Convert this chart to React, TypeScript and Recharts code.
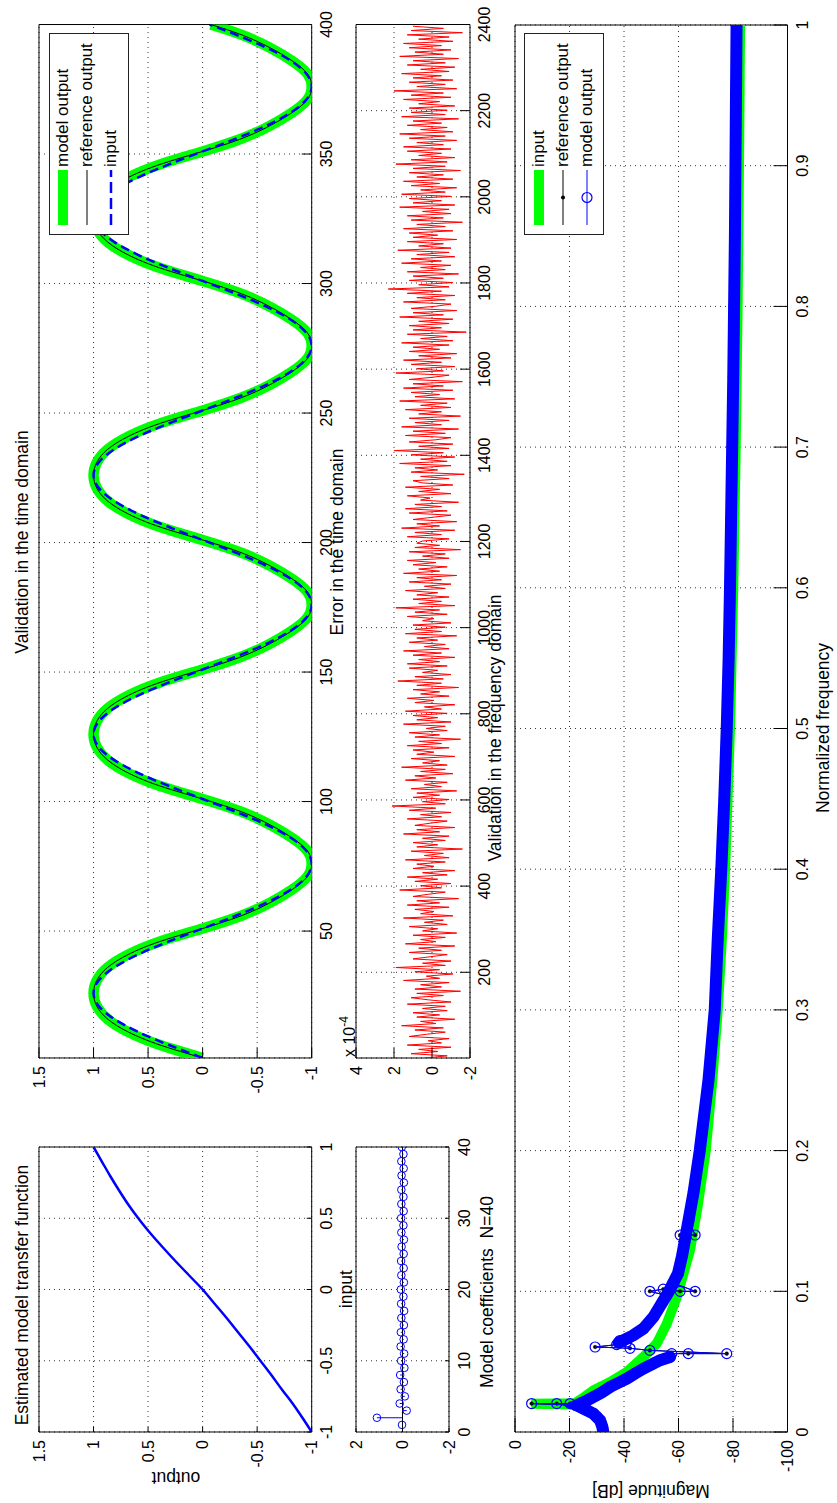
import React from 'react';
import {
  ComposedChart,
  Line,
  XAxis,
  YAxis,
  CartesianGrid,
  ReferenceArea,
  ReferenceLine,
  Legend,
} from 'recharts';

const FONT = '"Liberation Sans", Arial, Helvetica, sans-serif';
const TICK_FS = 16;
const LABEL_FS = 17.5;
const GREEN = '#00ff00';
const BLUE = '#0000ff';
const RED = '#ff0000';

// ---------------- data ----------------
// Estimated model transfer function
const tfInput = [-1, -0.9, -0.8, -0.7, -0.6, -0.5, -0.4, -0.3, -0.2, -0.1, 0, 0.1, 0.2, 0.3, 0.4, 0.5, 0.6, 0.7, 0.8, 0.9, 1];
const tfOutput = [-1, -0.915, -0.825, -0.725, -0.63, -0.53, -0.43, -0.325, -0.22, -0.11, 0, 0.125, 0.25, 0.37, 0.485, 0.59, 0.685, 0.77, 0.85, 0.925, 1];
const tfXTicks = [-1, -0.5, 0, 0.5, 1];
const tfYTicks = [-1, -0.5, 0, 0.5, 1, 1.5];

// Model coefficients N=40
const coefIndex = [1, 2, 3, 4, 5, 6, 7, 8, 9, 10, 11, 12, 13, 14, 15, 16, 17, 18, 19, 20, 21, 22, 23, 24, 25, 26, 27, 28, 29, 30, 31, 32, 33, 34, 35, 36, 37, 38, 39, 40];
const coefValue = [0.02, 1.1, -0.18, 0.12, -0.1, 0.08, -0.06, 0.1, -0.08, 0.06, -0.07, 0.08, -0.05, 0.07, -0.06, 0.05, -0.07, 0.06, -0.04, 0.07, -0.06, 0.05, -0.05, 0.06, -0.05, 0.04, -0.06, 0.05, -0.04, 0.06, -0.05, 0.05, -0.04, 0.05, -0.06, 0.04, -0.05, 0.05, -0.04, 0.03];
const coefXTicks = [0, 10, 20, 30, 40];
const coefYTicks = [-2, 0, 2];

// Validation in the time domain
const timeIndex = [1, 6, 11, 16, 21, 26, 31, 36, 41, 46, 51, 56, 61, 66, 71, 76, 81, 86, 91, 96, 101, 106, 111, 116, 121, 126, 131, 136, 141, 146, 151, 156, 161, 166, 171, 176, 181, 186, 191, 196, 201, 206, 211, 216, 221, 226, 231, 236, 241, 246, 251, 256, 261, 266, 271, 276, 281, 286, 291, 296, 301, 306, 311, 316, 321, 326, 331, 336, 341, 346, 351, 356, 361, 366, 371, 376, 381, 386, 391, 396, 400];
const timeInput = [
  0, 0.309, 0.588, 0.809, 0.951, 1, 0.951, 0.809, 0.588, 0.309, 0, -0.309, -0.588, -0.809, -0.951, -1, -0.951, -0.809, -0.588, -0.309,
  0, 0.309, 0.588, 0.809, 0.951, 1, 0.951, 0.809, 0.588, 0.309, 0, -0.309, -0.588, -0.809, -0.951, -1, -0.951, -0.809, -0.588, -0.309,
  0, 0.309, 0.588, 0.809, 0.951, 1, 0.951, 0.809, 0.588, 0.309, 0, -0.309, -0.588, -0.809, -0.951, -1, -0.951, -0.809, -0.588, -0.309,
  0, 0.309, 0.588, 0.809, 0.951, 1, 0.951, 0.809, 0.588, 0.309, 0, -0.309, -0.588, -0.809, -0.951, -1, -0.951, -0.809, -0.588, -0.309,
  -0.063,
];
const timeOutput = [
  0, 0.39, 0.68, 0.87, 0.97, 1, 0.97, 0.87, 0.68, 0.39, 0, -0.36, -0.62, -0.82, -0.96, -1, -0.96, -0.82, -0.62, -0.36,
  0, 0.39, 0.68, 0.87, 0.97, 1, 0.97, 0.87, 0.68, 0.39, 0, -0.36, -0.62, -0.82, -0.96, -1, -0.96, -0.82, -0.62, -0.36,
  0, 0.39, 0.68, 0.87, 0.97, 1, 0.97, 0.87, 0.68, 0.39, 0, -0.36, -0.62, -0.82, -0.96, -1, -0.96, -0.82, -0.62, -0.36,
  0, 0.39, 0.68, 0.87, 0.97, 1, 0.97, 0.87, 0.68, 0.39, 0, -0.36, -0.62, -0.82, -0.96, -1, -0.96, -0.82, -0.62, -0.36,
  -0.075,
];
const timeXTicks = [50, 100, 150, 200, 250, 300, 350, 400];
const timeYTicks = [-1, -0.5, 0, 0.5, 1, 1.5];

// Error in the time domain (x 10^-4), one value every 5 samples
const errorValue = [
  0.4, -0.8, 1.1, -0.3, 0.7, -1.0, 1.3, -0.5, 0.2, -0.9, 1.2, 0.3, -0.7, 0.9, -0.6, 1.6, -0.2, 0.6, -1.2, 0.8,
  -0.4, 1.0, -0.8, 0.5, -0.7, 1.3, -1.0, 0.2, 1.1, -0.6, 0.8, -1.5, 0.9, -0.5, 0.6, -0.9, 1.5, -0.4, 0.3, -1.1,
  0.9, -0.4, 1.9, -0.7, 0.5, -1.0, 1.0, 0.1, -0.8, 1.2, -0.5, 0.7, -1.2, 1.4, -0.2, 0.6, -0.7, 1.0, -1.3, 0.5,
  -0.3, 1.2, -0.8, 0.4, -0.6, 1.5, -1.1, 0.6, -0.1, 0.9, -0.9, 1.3, -0.4, 0.8, -1.4, 1.0, 0.2, -0.7, 1.7, -0.5,
  0.6, -1.0, 0.9, -0.3, 1.3, -0.8, 0.5, -1.2, 1.0, -0.1, 0.8, -0.7, 1.4, -0.9, 0.4, -0.6, 1.1, -1.6, 0.8, -0.3,
  1.0, -0.7, 0.5, -0.9, 1.5, -0.4, 0.8, -1.2, 0.9, 0.1, -0.8, 1.3, -0.5, 0.6, -1.0, 1.2, -0.2, 2.1, -0.7, 0.5,
  -0.9, 1.0, -0.4, 0.8, -1.3, 1.1, -0.5, 0.4, -0.8, 1.4, -0.2, 0.9, -1.1, 0.6, -0.7, 1.6, -0.8, 0.5, -0.4, 1.1,
  -1.2, 0.8, -0.1, 1.0, -0.9, 1.3, -0.5, 0.7, -1.5, 0.9, -0.4, 1.2, -0.8, 0.3, -0.7, 1.5, -1.0, 0.8, -0.3, 1.0,
  -0.8, 1.4, -0.5, 0.4, -1.2, 0.9, -0.1, 1.3, -0.9, 0.6, -0.4, 1.0, -1.4, 0.8, -0.5, 1.8, -0.6, 0.9, -1.0, 0.5,
  -0.3, 1.2, -0.8, 1.3, -0.4, 0.7, -1.2, 1.0, -0.5, 1.5, -0.9, 0.4, -0.7, 1.2, -0.3, 0.8, -1.3, 1.4, -0.5, 0.9,
  -0.7, 1.0, -1.0, 0.5, -0.1, 1.3, -0.8, 0.9, -0.4, 1.9, -1.2, 0.7, -0.5, 1.0, -0.9, 0.8, -0.3, 1.4, -0.7, 0.4,
  -1.0, 1.2, -0.5, 0.8, -1.3, 1.5, -0.4, 0.7, -0.8, 1.0, -0.2, 1.3, -0.9, 0.5, -0.7, 1.2, -1.5, 0.9, -0.4, 0.8,
  0.5, -0.9, 1.3, -0.5, 0.9, -1.2, 1.6, -0.4, 0.8, -1.3, 1.0, 0.0, -1.0, 1.2, -0.8, 1.4, -0.5, 0.9, -1.4, 0.6,
  0.1, 1.3, -1.0, 0.7, -0.4, 1.4, -1.1, 0.5, 1.0, -0.9, 0.6, -1.7, 1.1, -0.3, 0.9, -1.0, 1.7, -0.8, 0.6, -1.2,
  1.1, -0.6, 2.0, -0.9, 0.7, -1.1, 1.2, -0.2, -1.0, 1.4, -0.7, 1.0, -1.4, 1.6, -0.5, 0.9, -0.9, 1.2, -1.5, 0.7,
  -0.5, 1.4, -1.0, 0.6, -0.8, 1.7, -1.2, 0.9, -0.4, 1.1, -1.1, 1.5, -0.6, 1.0, -1.6, 1.2, 0.0, -0.9, 1.9, -0.6,
  0.8, -1.2, 1.1, -0.5, 1.5, -1.0, 0.7, -1.3, 1.2, -0.4, 1.0, -0.9, 1.6, -1.1, 0.6, -0.8, 1.3, -1.8, 1.0, -0.5,
  1.2, -0.9, 0.7, -1.1, 1.7, -0.6, 1.0, -1.3, 1.1, -0.2, -1.0, 1.5, -0.7, 0.8, -1.2, 1.3, -0.5, 2.3, -0.9, 0.7,
  -1.1, 1.2, -0.6, 1.0, -1.4, 1.3, -0.7, 0.6, -1.0, 1.6, -0.5, 1.1, -1.2, 0.8, -0.9, 1.8, -1.0, 0.7, -0.6, 1.3,
  -1.3, 1.0, -0.3, 1.2, -1.1, 1.5, -0.7, 0.8, -1.6, 1.1, -0.6, 1.3, -1.0, 0.5, -0.9, 1.7, -1.2, 1.0, -0.5, 1.2,
  -1.0, 1.6, -0.7, 0.6, -1.3, 1.1, -0.4, 1.5, -1.1, 0.8, -0.6, 1.2, -1.5, 1.0, -0.7, 1.9, -0.8, 1.1, -1.2, 0.7,
  -0.5, 1.3, -1.0, 1.5, -0.6, 0.8, -1.3, 1.2, -0.7, 1.7, -1.1, 0.6, -0.8, 1.3, -0.5, 1.0, -1.4, 1.6, -0.7, 1.1,
  -0.8, 1.2, -1.2, 0.7, -0.4, 1.5, -1.0, 1.1, -0.6, 2.0, -1.3, 0.8, -0.7, 1.2, -1.1, 1.0, -0.5, 1.6, -0.9, 0.6,
  -1.2, 1.3, -0.7, 1.0, -1.4, 1.7, -0.6, 0.9, -1.0, 1.2, -0.5, 1.5, -1.1, 0.7, -0.9, 1.3, -1.6, 1.1, -0.6, 1.0,
];
const errorXTicks = [200, 400, 600, 800, 1000, 1200, 1400, 1600, 1800, 2000, 2200, 2400];
const errorYTicks = [-2, 0, 2, 4];

// Validation in the frequency domain: [normalized frequency, magnitude dB]
const freqInput: [number, number][] = [
  [0.0166, -23], [0.0195, -22], [0.02, -6], [0.0205, -22], [0.025, -25.5], [0.0296, -28.8], [0.0355, -34.9],
  [0.0427, -41], [0.0533, -47.1], [0.0628, -52], [0.077, -55.7], [0.096, -59.4], [0.129, -64.2], [0.16, -67],
  [0.2, -70], [0.25, -72.4], [0.3, -74.4], [0.35, -75.9], [0.4, -77.1], [0.5, -78.9], [0.6, -80.1], [0.7, -81],
  [0.8, -81.7], [0.9, -82.2], [1, -82.6],
];
const freqModelBand: [number, number | null][] = [
  [0, -32.4], [0.004, -32], [0.0083, -31.2], [0.013, -28.8], [0.0166, -25.1], [0.019, -22.6], [0.0202, -23.9],
  [0.0225, -26.5], [0.0249, -28.8], [0.028, -31.8], [0.032, -34.9], [0.035, -38], [0.0379, -41], [0.0415, -44],
  [0.045, -47.1], [0.048, -50.2], [0.051, -53.2], [0.0533, -56.9], [0.0585, null],
  [0.0635, -38], [0.0687, -43.4], [0.0735, -47.1], [0.0817, -50.8], [0.092, -54], [0.1, -56.5], [0.1126, -59.8],
  [0.125, -61.3], [0.14, -62.7], [0.17, -65.5], [0.2, -67.8], [0.25, -71], [0.3, -73.3], [0.35, -74.4],
  [0.4, -75.7], [0.45, -76.8], [0.5, -77.7], [0.55, -78.4], [0.6, -78.9], [0.65, -79.3], [0.7, -79.7],
  [0.75, -80.1], [0.8, -80.4], [0.85, -80.7], [0.9, -80.9], [0.95, -81.1], [1, -81.3],
];
const freqOutput: [number, number][] = [
  [0, -32.4], [0.003, -32.2], [0.006, -31.7], [0.0083, -31.2], [0.011, -30], [0.013, -28.8], [0.015, -27],
  [0.0166, -25.1], [0.019, -22.6], [0.0202, -6.1], [0.0202, -15.3], [0.0202, -20.2], [0.0202, -23.9],
  [0.0225, -26.5], [0.0249, -28.8], [0.028, -31.8], [0.032, -34.9], [0.035, -38], [0.0379, -41], [0.0415, -44],
  [0.045, -47.1], [0.048, -50.2], [0.051, -53.2], [0.0533, -56.9], [0.0557, -57.5], [0.0557, -63.6],
  [0.0557, -77.7], [0.058, -49.5], [0.0595, -42.2], [0.0604, -29.4], [0.0621, -37.3], [0.064, -41],
  [0.065, -38.5], [0.0687, -43.4], [0.0735, -47.1], [0.0817, -50.8], [0.092, -54], [0.097, -55.5],
  [0.1, -49.5], [0.1015, -54.4], [0.1, -60.6], [0.1, -66.1], [0.106, -58], [0.1126, -59.8], [0.125, -61.3],
  [0.135, -62.3], [0.14, -60.6], [0.14, -66.1], [0.15, -63.8], [0.17, -65.5], [0.2, -67.8], [0.25, -71],
  [0.3, -73.3], [0.35, -74.4], [0.4, -75.7], [0.45, -76.8], [0.5, -77.7], [0.55, -78.4], [0.6, -78.9],
  [0.65, -79.3], [0.7, -79.7], [0.75, -80.1], [0.8, -80.4], [0.85, -80.7], [0.9, -80.9], [0.95, -81.1], [1, -81.3],
];
const freqXTicks = [0, 0.1, 0.2, 0.3, 0.4, 0.5, 0.6, 0.7, 0.8, 0.9, 1];
const freqYTicks = [-100, -80, -60, -40, -20, 0];

// ---------------- derived tables ----------------
const tfData = tfInput.map((x, i) => ({ x, y: tfOutput[i] }));
const coefData = coefIndex.map((x, i) => ({ x, y: coefValue[i] }));
const timeInputData = timeIndex.map((x, i) => ({ x, y: timeInput[i] }));
const timeOutputData = timeIndex.map((x, i) => ({ x, y: timeOutput[i] }));
const errorData = errorValue.map((y, i) => ({ x: 1 + i * 5, y }));
const freqInputData = freqInput.map(([x, y]) => ({ x, y }));
const freqBandData = freqModelBand.map(([x, y]) => ({ x, y }));
const freqOutputData = freqOutput.map(([x, y]) => ({ x, y }));

// ---------------- helpers ----------------
type Rect = { l: number; t: number; r: number; b: number };
const MT = 10;
const MR = 30;
const XH = 40;

function frame(rect: Rect, yw: number) {
  return {
    style: { position: 'absolute' as const, left: rect.l - yw, top: rect.t - MT },
    width: rect.r - rect.l + yw + MR,
    height: rect.b - rect.t + MT + XH,
    margin: { top: MT, right: MR, bottom: 0, left: 0 },
  };
}

const xTick = (len: number, dy: number) => (p: any) => (
  <g>
    <line x1={p.x} y1={p.y} x2={p.x} y2={p.y - len} stroke="#000" strokeWidth={1} />
    <text x={p.x} y={p.y + dy} textAnchor="middle" fontSize={TICK_FS} fontFamily={FONT} fill="#000">
      {String(p.payload.value)}
    </text>
  </g>
);

const yTick = (len: number) => (p: any) => (
  <g>
    <line x1={p.x} y1={p.y} x2={p.x + len} y2={p.y} stroke="#000" strokeWidth={1} />
    <text x={p.x - 8} y={p.y} dy="0.36em" textAnchor="end" fontSize={TICK_FS} fontFamily={FONT} fill="#000">
      {String(p.payload.value)}
    </text>
  </g>
);

type IconKind = 'thick' | 'line' | 'dash' | 'lineDot' | 'lineCircle';
function renderIcon(kind: IconKind, color: string) {
  const y = 11;
  if (kind === 'thick') return <line x1={9} y1={y} x2={64} y2={y} stroke={color} strokeWidth={10} />;
  if (kind === 'dash') return <line x1={9} y1={y} x2={64} y2={y} stroke={color} strokeWidth={2.5} strokeDasharray="11 5" />;
  if (kind === 'lineDot')
    return (
      <g>
        <line x1={9} y1={y} x2={64} y2={y} stroke={color} strokeWidth={1} />
        <circle cx={36.5} cy={y} r={2} fill={color} />
      </g>
    );
  if (kind === 'lineCircle')
    return (
      <g>
        <line x1={9} y1={y} x2={64} y2={y} stroke={color} strokeWidth={1} />
        <circle cx={36.5} cy={y} r={5} fill="none" stroke={color} strokeWidth={1.2} />
      </g>
    );
  return <line x1={9} y1={y} x2={64} y2={y} stroke={color} strokeWidth={1} />;
}

type LegendSpec = { name: string; kind: IconKind };
const makeLegend = (specs: LegendSpec[]) => (p: any) => {
  const items = (p.payload || []).filter((e: any) => e.type !== 'none');
  const rows = [14.5, 38.5, 62.5];
  return (
    <div
      style={{
        position: 'relative',
        width: 202,
        height: 80,
        border: '1px solid #222',
        background: '#fff',
        boxSizing: 'border-box',
      }}
    >
      {specs.map((s, i) => {
        const e = items.find((it: any) => it.value === s.name);
        if (!e) return null;
        return (
          <div
            key={s.name}
            style={{
              position: 'absolute',
              left: 0,
              top: rows[i] - 12,
              height: 22,
              display: 'flex',
              alignItems: 'center',
              whiteSpace: 'nowrap',
            }}
          >
            <svg width={67} height={22} style={{ display: 'block', flex: 'none' }}>
              {renderIcon(s.kind, e.color)}
            </svg>
            <span style={{ fontFamily: FONT, fontSize: 17, color: '#000', lineHeight: '22px' }}>{e.value}</span>
          </div>
        );
      })}
    </div>
  );
};

const GRID = <CartesianGrid stroke="#333" strokeDasharray="1 4" />;

// ---------------- plot rectangles (landscape figure coords) ----------------
const R_TF: Rect = { l: 71.3, t: 39.3, r: 356.3, b: 312 };
const R_COEF: Rect = { l: 71.3, t: 356, r: 356.3, b: 449 };
const R_TIME: Rect = { l: 445, t: 39.3, r: 1478.5, b: 312 };
const R_ERR: Rect = { l: 445, t: 356, r: 1478.5, b: 470 };
const R_FREQ: Rect = { l: 71.3, t: 515, r: 1478.3, b: 787.5 };

function TransferChart() {
  const f = frame(R_TF, 70);
  return (
    <div style={f.style}>
      <ComposedChart width={f.width} height={f.height} margin={f.margin}>
        {GRID}
        <XAxis dataKey="x" type="number" domain={[-1, 1]} ticks={tfXTicks} allowDataOverflow interval={0} height={XH}
          tickSize={0} tickMargin={0} tickLine={false} axisLine={false} tick={xTick(5, 20.5)} />
        <YAxis type="number" domain={[-1, 1.5]} ticks={tfYTicks} allowDataOverflow interval={0} width={70}
          tickSize={0} tickMargin={0} tickLine={false} axisLine={false} tick={yTick(5)} />
        <ReferenceArea x1={-1} x2={1} y1={-1} y2={1.5} fill="none" stroke="#000" strokeWidth={1} ifOverflow="visible" />
        <Line data={tfData} dataKey="y" type="monotone" stroke={BLUE} strokeWidth={2.5} dot={false} isAnimationActive={false} />
      </ComposedChart>
    </div>
  );
}

function CoefChart() {
  const f = frame(R_COEF, 70);
  return (
    <div style={f.style}>
      <ComposedChart width={f.width} height={f.height} margin={f.margin}>
        {GRID}
        <XAxis dataKey="x" type="number" domain={[0, 40]} ticks={coefXTicks} allowDataOverflow interval={0} height={XH}
          tickSize={0} tickMargin={0} tickLine={false} axisLine={false} tick={xTick(4, 21)} />
        <YAxis type="number" domain={[-2, 2]} ticks={coefYTicks} allowDataOverflow interval={0} width={70}
          tickSize={0} tickMargin={0} tickLine={false} axisLine={false} tick={yTick(4)} />
        <ReferenceArea x1={0} x2={40} y1={-2} y2={2} fill="none" stroke="#000" strokeWidth={1} ifOverflow="visible" />
        <ReferenceLine y={0} stroke="#000" strokeWidth={1} />
        {coefData.map((d) => (
          <ReferenceLine key={'stem' + d.x} segment={[{ x: d.x, y: 0 }, { x: d.x, y: d.y }]} stroke={BLUE} strokeWidth={1} ifOverflow="visible" />
        ))}
        <Line data={coefData} dataKey="y" stroke="none" legendType="none"
          dot={{ r: 3.8, stroke: BLUE, strokeWidth: 1, fill: 'none' }} isAnimationActive={false} />
      </ComposedChart>
    </div>
  );
}

function TimeChart() {
  const f = frame(R_TIME, 80);
  return (
    <div style={f.style}>
      <ComposedChart width={f.width} height={f.height} margin={f.margin}>
        {GRID}
        <XAxis dataKey="x" type="number" domain={[1, 400]} ticks={timeXTicks} allowDataOverflow interval={0} height={XH}
          tickSize={0} tickMargin={0} tickLine={false} axisLine={false} tick={xTick(10, 20.5)} />
        <YAxis type="number" domain={[-1, 1.5]} ticks={timeYTicks} allowDataOverflow interval={0} width={80}
          tickSize={0} tickMargin={0} tickLine={false} axisLine={false} tick={yTick(10)} />
        <ReferenceArea x1={1} x2={400} y1={-1} y2={1.5} fill="none" stroke="#000" strokeWidth={1} ifOverflow="visible" />
        <Line name="model output" data={timeOutputData} dataKey="y" type="natural" stroke={GREEN} strokeWidth={10.5}
          dot={false} isAnimationActive={false} />
        <Line name="reference output" data={timeOutputData} dataKey="y" type="natural" stroke="#000" strokeWidth={1}
          dot={false} isAnimationActive={false} />
        <Line name="input" data={timeInputData} dataKey="y" type="natural" stroke={BLUE} strokeWidth={2.5}
          strokeDasharray="9 5" dot={false} isAnimationActive={false} />
        <Legend layout="vertical" align="center" verticalAlign="middle"
          wrapperStyle={{ position: 'absolute', left: 1268 - (R_TIME.l - 80), top: 49 - (R_TIME.t - MT), width: 202, height: 80, margin: 0, padding: 0 }}
          content={makeLegend([
            { name: 'model output', kind: 'thick' },
            { name: 'reference output', kind: 'line' },
            { name: 'input', kind: 'dash' },
          ])} />
      </ComposedChart>
    </div>
  );
}

function ErrorChart() {
  const f = frame(R_ERR, 80);
  return (
    <div style={f.style}>
      <ComposedChart width={f.width} height={f.height} margin={f.margin}>
        {GRID}
        <XAxis dataKey="x" type="number" domain={[1, 2400]} ticks={errorXTicks} allowDataOverflow interval={0} height={XH}
          tickSize={0} tickMargin={0} tickLine={false} axisLine={false} tick={xTick(10, 20)} />
        <YAxis type="number" domain={[-2, 4]} ticks={errorYTicks} allowDataOverflow interval={0} width={80}
          tickSize={0} tickMargin={0} tickLine={false} axisLine={false} tick={yTick(10)} />
        <ReferenceArea x1={1} x2={2400} y1={-2} y2={4} fill="none" stroke="#000" strokeWidth={1} ifOverflow="visible" />
        <Line data={errorData} dataKey="y" type="linear" stroke={RED} strokeWidth={1} dot={false} isAnimationActive={false} />
      </ComposedChart>
    </div>
  );
}

function FreqChart() {
  const f = frame(R_FREQ, 70);
  return (
    <div style={f.style}>
      <ComposedChart width={f.width} height={f.height} margin={f.margin}>
        {GRID}
        <XAxis dataKey="x" type="number" domain={[0, 1]} ticks={freqXTicks} allowDataOverflow interval={0} height={XH}
          tickSize={0} tickMargin={0} tickLine={false} axisLine={false} tick={xTick(14, 20.5)} />
        <YAxis type="number" domain={[-100, 0]} ticks={freqYTicks} allowDataOverflow interval={0} width={70}
          tickSize={0} tickMargin={0} tickLine={false} axisLine={false} tick={yTick(14)} />
        <ReferenceArea x1={0} x2={1} y1={-100} y2={0} fill="none" stroke="#000" strokeWidth={1} ifOverflow="visible" />
        <Line name="input" data={freqInputData} dataKey="y" type="linear" stroke={GREEN} strokeWidth={10}
          dot={false} isAnimationActive={false} zIndex={400} />
        <Line name="reference output" data={freqOutputData} dataKey="y" type="linear" stroke="#000" strokeWidth={1}
          dot={{ r: 1.8, fill: '#000', stroke: '#000', strokeWidth: 0.5 }} isAnimationActive={false} zIndex={401} />
        <Line name="model band" legendType="none" data={freqBandData} dataKey="y" type="linear" stroke={BLUE}
          strokeWidth={12} strokeLinecap="round" dot={false} isAnimationActive={false} zIndex={650} />
        <Line name="model output" data={freqOutputData} dataKey="y" type="linear" stroke={BLUE} strokeWidth={1}
          dot={{ r: 5, stroke: BLUE, strokeWidth: 1.2, fill: 'none' }} isAnimationActive={false} zIndex={660} />
        <Legend layout="vertical" align="center" verticalAlign="middle"
          wrapperStyle={{ position: 'absolute', left: 1268 - (R_FREQ.l - 70), top: 524 - (R_FREQ.t - MT), width: 202, height: 80, margin: 0, padding: 0 }}
          content={makeLegend([
            { name: 'input', kind: 'thick' },
            { name: 'reference output', kind: 'lineDot' },
            { name: 'model output', kind: 'lineCircle' },
          ])} />
      </ComposedChart>
    </div>
  );
}

function Labels() {
  const t = { fontFamily: FONT, fontSize: LABEL_FS, fill: '#000' };
  return (
    <svg width={1503} height={837} style={{ position: 'absolute', left: 0, top: 0, pointerEvents: 'none' }}>
      <text x={208} y={28} textAnchor="middle" {...t}>Estimated model transfer function</text>
      <text x={961} y={28} textAnchor="middle" {...t}>Validation in the time domain</text>
      <text x={961} y={343} textAnchor="middle" {...t}>Error in the time domain</text>
      <text x={775} y={501} textAnchor="middle" {...t}>Validation in the frequency domain</text>
      <text x={213.8} y={352} textAnchor="middle" {...t}>input</text>
      <text x={211} y={493} textAnchor="middle" {...t} style={{ whiteSpace: 'pre' }}>{'Model coefficients  N=40'}</text>
      <text x={775} y={829} textAnchor="middle" {...t}>Normalized frequency</text>
      <text transform="translate(31,176) rotate(-90)" textAnchor="middle" {...t}>output</text>
      <text transform="translate(18,651) rotate(-90)" textAnchor="middle" {...t}>Magnitude [dB]</text>
      <text x={446} y={355} fontFamily={FONT} fontSize={TICK_FS} fill="#000">
        x 10<tspan dy={-7} fontSize={12}>-4</tspan>
      </text>
    </svg>
  );
}

export default function App() {
  return (
    <div
      style={{
        position: 'absolute',
        left: 0,
        top: 0,
        width: 1503,
        height: 837,
        transformOrigin: '0 0',
        transform: 'translateY(1503px) rotate(-90deg)',
        background: '#fff',
        overflow: 'hidden',
        fontFamily: FONT,
      }}
    >
      <style>{'html,body{margin:0;padding:0;overflow:hidden;background:#fff}'}</style>
      <TransferChart />
      <CoefChart />
      <TimeChart />
      <ErrorChart />
      <FreqChart />
      <Labels />
    </div>
  );
}
